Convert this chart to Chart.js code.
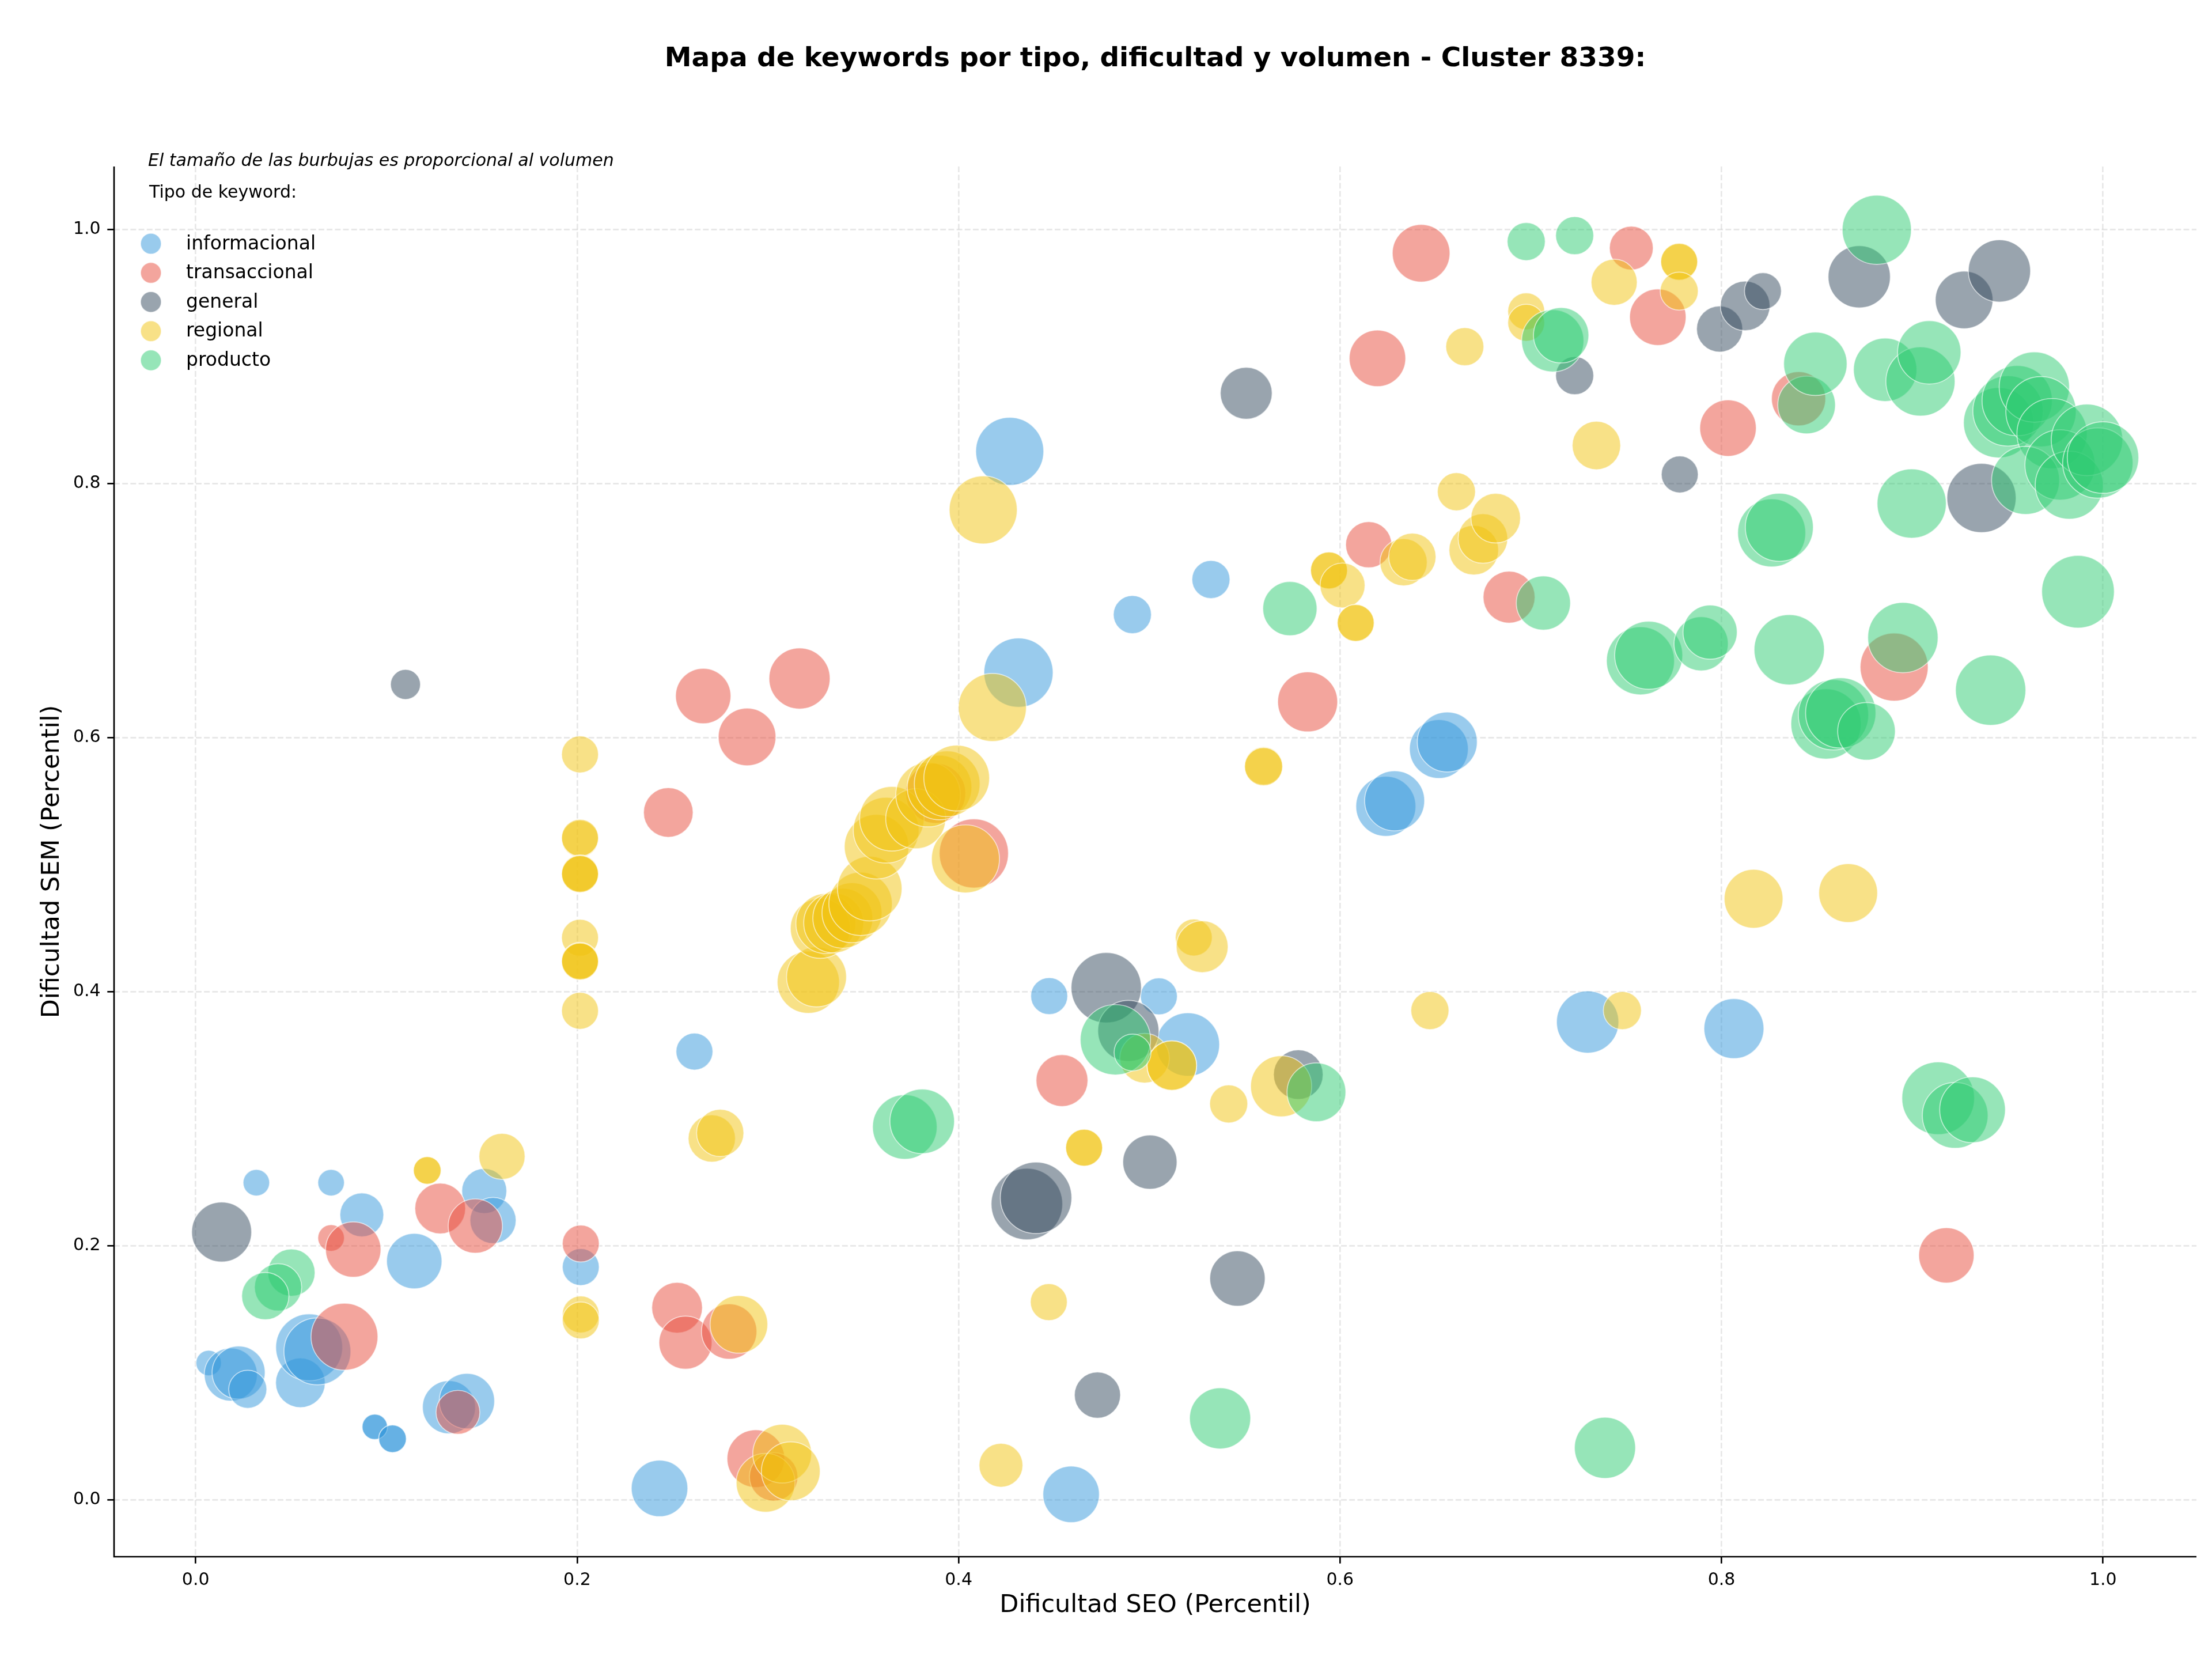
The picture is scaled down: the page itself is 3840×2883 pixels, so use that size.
<!DOCTYPE html>
<html>
<head>
<meta charset="utf-8">
<script src="https://cdn.jsdelivr.net/npm/chart.js@4.4.1/dist/chart.umd.min.js"></script>
<style>
html,body{margin:0;padding:0;background:#ffffff;overflow:hidden;}
#wrap{width:3840px;height:2883px;}
canvas{display:block;}
</style>
</head>
<body>
<div id="wrap"><canvas id="c" width="3840" height="2883"></canvas></div>
<script>
// ---------------- DATA ----------------
const TITLE = 'Mapa de keywords por tipo, dificultad y volumen - Cluster 8339:';
const NOTE_TEXT = 'El tamaño de las burbujas es proporcional al volumen';
const LEGEND_TITLE = 'Tipo de keyword:';
const X_LABEL = 'Dificultad SEO (Percentil)';
const Y_LABEL = 'Dificultad SEM (Percentil)';
const X_TICKS = [0, 0.2, 0.4, 0.6, 0.8, 1.0];
const Y_TICKS = [0, 0.2, 0.4, 0.6, 0.8, 1.0];
const SERIES_NAMES = ['informacional', 'transaccional', 'general', 'regional', 'producto'];

// informacional
const infoX = [0.0318,0.0710,0.0871,0.1513,0.1559,0.1146,0.0068,0.0184,0.0225,0.0273,0.0549,0.0595,0.0638,0.0939,0.1032,0.1328,0.1422,0.2019,0.2432,0.2615,0.4475,0.5050,0.5202,0.4590,0.4268,0.4314,0.4911,0.5323,0.6518,0.6562,0.6240,0.6286,0.7298,0.8065,0.0939,0.1032];
const infoY = [0.2495,0.2495,0.2242,0.2430,0.2198,0.1878,0.1076,0.0985,0.1001,0.0869,0.0920,0.1199,0.1167,0.0572,0.0478,0.0728,0.0776,0.1831,0.0089,0.3527,0.3964,0.3962,0.3583,0.0042,0.8252,0.6510,0.6967,0.7243,0.5909,0.5964,0.5458,0.5501,0.3760,0.3708,0.0574,0.0480];
const infoVol = [2120,2120,5780,6080,6400,9220,1940,8460,8460,4360,7400,13460,13460,1940,2300,8460,9220,4100,9600,4100,4100,4100,12100,9600,13920,14400,4360,4360,10400,10820,10820,10820,11660,10820,1940,2300];

// transaccional
const transX = [0.0710,0.0826,0.1282,0.1466,0.0780,0.1375,0.2019,0.2524,0.2568,0.2797,0.2937,0.3030,0.2478,0.2661,0.2891,0.3166,0.3880,0.4080,0.4542,0.5830,0.6150,0.6196,0.6425,0.6886,0.7527,0.7666,0.8034,0.8404,0.8905,0.9179];
const transY = [0.2060,0.1969,0.2292,0.2154,0.1283,0.0688,0.2016,0.1511,0.1236,0.1324,0.0323,0.0180,0.5409,0.6326,0.6004,0.6464,0.5560,0.5087,0.3299,0.6280,0.7517,0.8984,0.9811,0.7104,0.9852,0.9308,0.8435,0.8666,0.6554,0.1923];
const transVol = [2120,9220,7740,8840,13460,5780,4100,7740,8460,9220,10000,7060,7400,9220,10000,11240,10820,14400,8100,10820,6400,9600,10000,8100,5780,9600,9600,8840,13920,9220];

// general
const genX = [0.0136,0.1100,0.4358,0.4406,0.4728,0.4774,0.4890,0.5003,0.5462,0.5508,0.5781,0.7230,0.7781,0.7990,0.8124,0.8217,0.8722,0.9272,0.9457,0.9363];
const genY = [0.2107,0.6417,0.2327,0.2376,0.0823,0.4030,0.3690,0.2657,0.1741,0.8709,0.3346,0.8848,0.8070,0.9215,0.9397,0.9513,0.9626,0.9444,0.9672,0.7885];
const genVol = [10820,2700,15380,15380,6400,14880,11240,8840,9220,8100,7400,4360,4100,6400,7400,4100,11660,10000,11660,14400];

// regional
const regX = [0.1214,0.1214,0.1606,0.2019,0.2019,0.2015,0.2015,0.2015,0.2015,0.2015,0.2015,0.2015,0.2015,0.2015,0.2015,0.2015,0.2706,0.2750,0.2848,0.2988,0.3075,0.3120,0.3212,0.3255,0.3275,0.3304,0.3345,0.3393,0.3441,0.3486,0.3534,0.3570,0.3620,0.3650,0.3775,0.3840,0.3900,0.3940,0.3990,0.4036,0.4129,0.4177,0.4222,0.4473,0.4658,0.4658,0.4975,0.5118,0.5118,0.5233,0.5277,0.5416,0.5599,0.5599,0.5691,0.5942,0.5942,0.6013,0.6082,0.6082,0.6333,0.6379,0.6471,0.6610,0.6654,0.6701,0.6749,0.6816,0.6976,0.6976,0.7344,0.7437,0.7480,0.7778,0.7778,0.7778,0.8168,0.8664];
const regY = [0.2590,0.2592,0.2702,0.1458,0.1411,0.5866,0.5202,0.5210,0.4927,0.4930,0.4924,0.4423,0.4239,0.4242,0.4236,0.3848,0.2843,0.2887,0.1380,0.0133,0.0362,0.0224,0.4073,0.4115,0.4497,0.4535,0.4540,0.4577,0.4620,0.4690,0.4810,0.5140,0.5270,0.5360,0.5360,0.5550,0.5606,0.5635,0.5680,0.5044,0.7791,0.6236,0.0271,0.1555,0.2772,0.2770,0.3475,0.3415,0.3418,0.4425,0.4353,0.3115,0.5776,0.5770,0.3254,0.7312,0.7315,0.7196,0.6899,0.6902,0.7379,0.7422,0.3850,0.7934,0.9076,0.7474,0.7566,0.7726,0.9354,0.9264,0.8298,0.9583,0.3850,0.9741,0.9745,0.9513,0.4730,0.4775];
const regVol = [2300,2300,6400,4100,4100,4100,4100,4100,4100,4100,4100,4100,4100,4100,4100,4100,6720,6720,10000,10400,10400,10400,11660,10820,10820,10820,10820,10820,10820,12100,12540,12540,13000,12540,10820,12540,12540,13000,13000,13920,13920,13920,5780,4100,4100,4100,7400,7400,7400,4100,8100,4360,4360,4360,11240,4100,4100,6080,4100,4100,6720,6720,4360,4360,4360,7400,7400,7400,4100,4100,7060,6400,4360,4100,4100,4360,10400,10400];

// producto
const prodX = [0.0502,0.0432,0.0365,0.3718,0.3809,0.4822,0.4912,0.5371,0.5737,0.5876,0.6976,0.7066,0.7115,0.7159,0.7230,0.7389,0.7575,0.7618,0.7893,0.7940,0.8263,0.8303,0.8355,0.8446,0.8492,0.8548,0.8587,0.8625,0.8760,0.8814,0.8858,0.8951,0.8997,0.9043,0.9089,0.9136,0.9225,0.9316,0.9411,0.9453,0.9502,0.9550,0.9640,0.9675,0.9733,0.9594,0.9775,0.9823,0.9916,0.9973,1.0000,0.9869];
const prodY = [0.1787,0.1672,0.1603,0.2934,0.2978,0.3620,0.3520,0.0640,0.7014,0.3207,0.9903,0.7058,0.9122,0.9166,0.9950,0.0408,0.6603,0.6647,0.6737,0.6829,0.7610,0.7654,0.6690,0.8617,0.8941,0.6106,0.6178,0.6193,0.6048,0.9996,0.8894,0.6786,0.7841,0.8802,0.9031,0.3160,0.3025,0.3069,0.6372,0.8477,0.8570,0.8651,0.8758,0.8564,0.8391,0.8023,0.8145,0.7986,0.8342,0.8160,0.8203,0.7147];
const prodVol = [6720,6720,6720,12540,12540,14880,4100,11240,8840,10400,4360,8840,11660,9220,4360,11240,13920,13920,8840,8840,13920,13920,14880,10000,12100,14880,14880,14880,10000,14400,12100,14880,14400,14400,12100,15880,13000,13000,14880,14880,14880,14880,14880,14880,14880,13920,14880,13920,15380,14880,15380,15880];

// ---------------- STYLE ----------------
const FONT = 'DejaVu Sans';
const SIZE_K = 0.5;             // radius (px) = sqrt(volume) * SIZE_K
const COLORS = [
  'rgba(52,152,219,0.5)',
  'rgba(231,76,60,0.5)',
  'rgba(52,73,94,0.5)',
  'rgba(241,196,15,0.5)',
  'rgba(46,204,113,0.5)'
];
const X_MIN = -0.0428, X_MAX = 1.049;
const Y_MIN = -0.0449, Y_MAX = 1.0494;
const LW = 2.67;

function toPoints(xs, ys, vs) {
  return xs.map((x, i) => ({ x: x, y: ys[i], r: Math.sqrt(vs[i]) * SIZE_K }));
}

const seriesData = [
  toPoints(infoX, infoY, infoVol),
  toPoints(transX, transY, transVol),
  toPoints(genX, genY, genVol),
  toPoints(regX, regY, regVol),
  toPoints(prodX, prodY, prodVol)
];

const datasets = SERIES_NAMES.map((name, i) => ({
  label: name,
  data: seriesData[i],
  backgroundColor: COLORS[i],
  borderColor: 'rgba(255,255,255,0.6)',
  borderWidth: 1.7,
  order: SERIES_NAMES.length - i
}));

const spinesPlugin = {
  id: 'spines',
  afterDatasetsDraw(chart) {
    const ctx = chart.ctx, ca = chart.chartArea;
    ctx.save();
    ctx.strokeStyle = '#000';
    ctx.lineWidth = LW;
    ctx.setLineDash([]);
    ctx.beginPath();
    ctx.moveTo(ca.left, ca.top);
    ctx.lineTo(ca.left, ca.bottom + LW / 2);
    ctx.moveTo(ca.left - LW / 2, ca.bottom);
    ctx.lineTo(ca.right, ca.bottom);
    ctx.stroke();
    ctx.restore();
  }
};

const legendPlugin = {
  id: 'kwLegend',
  afterDraw(chart) {
    const ctx = chart.ctx;
    ctx.save();
    ctx.textAlign = 'left';
    ctx.textBaseline = 'middle';
    ctx.fillStyle = '#000';
    ctx.font = 'italic 30px "' + FONT + '"';
    ctx.fillText(NOTE_TEXT, 257, 280);
    ctx.font = '30px "' + FONT + '"';
    ctx.fillText(LEGEND_TITLE, 259, 335);
    chart.data.datasets.forEach((ds, i) => {
      const y = 423 + i * 50.6;
      ctx.beginPath();
      ctx.arc(262, y, 18, 0, Math.PI * 2);
      ctx.fillStyle = ds.backgroundColor;
      ctx.fill();
      ctx.lineWidth = 1.7;
      ctx.strokeStyle = ds.borderColor;
      ctx.stroke();
      ctx.fillStyle = '#000';
      ctx.font = '33px "' + FONT + '"';
      ctx.fillText(ds.label, 323, y + 1);
    });
    ctx.restore();
  }
};

Chart.defaults.font.family = FONT;
Chart.defaults.color = '#000';

function gridOpts() {
  return {
    color: 'rgba(176,176,176,0.3)',
    lineWidth: LW,
    drawTicks: true,
    tickLength: 11.7,
    tickColor: '#000',
    tickWidth: LW,
    tickBorderDash: []
  };
}

new Chart(document.getElementById('c'), {
  type: 'bubble',
  data: { datasets: datasets },
  plugins: [spinesPlugin, legendPlugin],
  options: {
    responsive: false,
    devicePixelRatio: 1,
    animation: false,
    events: [],
    layout: { autoPadding: false, padding: { left: 0, right: 27, top: 0, bottom: 0 } },
    plugins: {
      legend: { display: false },
      tooltip: { enabled: false },
      title: {
        display: true,
        text: TITLE,
        fullSize: false,
        color: '#000',
        font: { family: FONT, size: 47, weight: 'bold' },
        padding: { top: 75, bottom: 157.6 }
      }
    },
    scales: {
      x: {
        type: 'linear',
        min: X_MIN,
        max: X_MAX,
        afterFit: (s) => { s.height = 181; },
        afterBuildTicks: (s) => { s.ticks = X_TICKS.map(v => ({ value: v })); },
        ticks: {
          font: { size: 30 },
          color: '#000',
          padding: 11.7,
          autoSkip: false,
          maxRotation: 0,
          callback: (v) => Number(v).toFixed(1)
        },
        grid: gridOpts(),
        border: { display: false, dash: [9.9, 4.3] },
        title: {
          display: true,
          text: X_LABEL,
          color: '#000',
          font: { size: 43 },
          padding: { top: 0, bottom: 70 }
        }
      },
      y: {
        type: 'linear',
        min: Y_MIN,
        max: Y_MAX,
        afterFit: (s) => { s.width = 198; },
        afterBuildTicks: (s) => { s.ticks = Y_TICKS.map(v => ({ value: v })); },
        ticks: {
          font: { size: 30 },
          color: '#000',
          padding: 11.7,
          autoSkip: false,
          callback: (v) => Number(v).toFixed(1)
        },
        grid: gridOpts(),
        border: { display: false, dash: [9.9, 4.3] },
        title: {
          display: true,
          text: Y_LABEL,
          color: '#000',
          font: { size: 43 },
          padding: { top: 65, bottom: 0 }
        }
      }
    }
  }
});
</script>
</body>
</html>
